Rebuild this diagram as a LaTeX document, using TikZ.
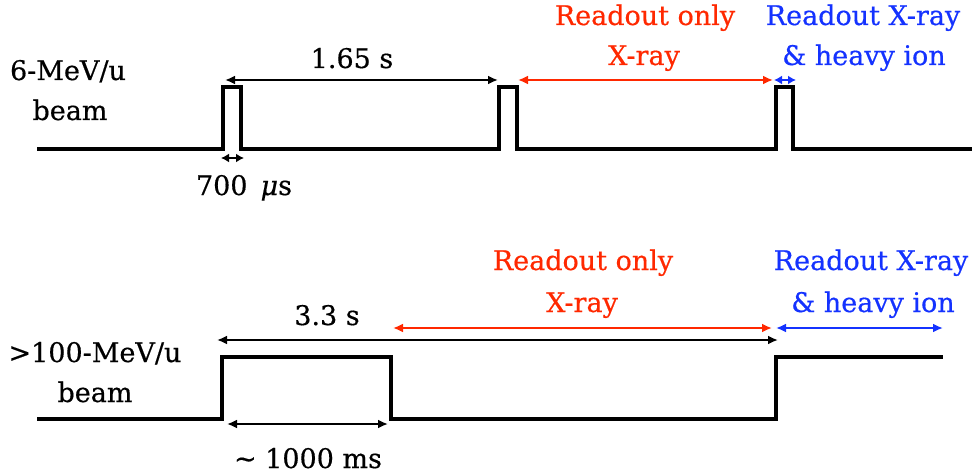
\documentclass[tikz,border=0pt]{standalone}
\usepackage{fontspec}
\setmainfont{DejaVu Serif}[FakeBold=0.5]
\usetikzlibrary{arrows.meta}
\definecolor{rored}{RGB}{255,40,0}
\definecolor{roblue}{RGB}{20,50,255}
\begin{document}
\begin{tikzpicture}[x=1pt,y=-1pt,
  wave/.style={line width=3.2pt, line join=miter},
  dimarr/.style={line width=2pt, {Latex[length=10pt,width=9pt]}-{Latex[length=10pt,width=9pt]}},
  smallarr/.style={line width=2pt, {Latex[length=8pt,width=9pt]}-{Latex[length=8pt,width=9pt]}},
  lbl/.style={font=\fontsize{27}{30}\selectfont, inner sep=0pt, anchor=base}]
\useasboundingbox (0,0) rectangle (972,476);

% ---- top waveform (6-MeV/u)
\coordinate (a0) at (37,149);
\coordinate (a1) at (223,149); \coordinate (a2) at (223,87);
\coordinate (a3) at (241,87);  \coordinate (a4) at (241,149);
\coordinate (a5) at (499,149); \coordinate (a6) at (499,87);
\coordinate (a7) at (517,87);  \coordinate (a8) at (517,149);
\coordinate (a9) at (776,149); \coordinate (a10) at (776,87);
\coordinate (a11) at (793,87); \coordinate (a12) at (793,149);
\coordinate (a13) at (972,149);
\draw[wave] (a0) -- (a1) -- (a2) -- (a3) -- (a4) -- (a5) -- (a6) -- (a7) -- (a8)
  -- (a9) -- (a10) -- (a11) -- (a12) -- (a13);

\coordinate (p1s) at (225,80); \coordinate (p1e) at (498,80);
\coordinate (r1s) at (518,80); \coordinate (r1e) at (773,80);
\coordinate (b1s) at (774,80); \coordinate (b1e) at (796,80);
\coordinate (w1s) at (221,158); \coordinate (w1e) at (244,158);
\draw[dimarr] (p1s) -- (p1e);
\draw[dimarr, rored] (r1s) -- (r1e);
\draw[smallarr, roblue] (b1s) -- (b1e);
\draw[smallarr] (w1s) -- (w1e);

\node[lbl] (t6mev) at (68,80) {6-MeV/u};
\node[lbl] (tbeam) at (70,120) {beam};
\node[lbl] (t165) at (352,68) {1.65 s};
\node[lbl, text=rored] (tro1) at (645,25) {Readout only};
\node[lbl, text=rored] (txr1) at (644,65) {X-ray};
\node[lbl, text=roblue] (trb1) at (863,25) {Readout X-ray};
\node[lbl, text=roblue] (thi1) at (864,65) {\& heavy ion};
\node[lbl] (t700) at (244,195) {700\, \textit{μ}s};

% ---- bottom waveform (>100-MeV/u)
\coordinate (c0) at (37,419);
\coordinate (c1) at (222,419); \coordinate (c2) at (222,357);
\coordinate (c3) at (391,357); \coordinate (c4) at (391,419);
\coordinate (c5) at (776,419); \coordinate (c6) at (776,357);
\coordinate (c7) at (943,357);
\draw[wave] (c0) -- (c1) -- (c2) -- (c3) -- (c4) -- (c5) -- (c6) -- (c7);

\coordinate (p2s) at (217,340); \coordinate (p2e) at (778,340);
\coordinate (r2s) at (393,328); \coordinate (r2e) at (772,328);
\coordinate (b2s) at (776,328); \coordinate (b2e) at (943,328);
\coordinate (m2s) at (227,424); \coordinate (m2e) at (388,424);
\draw[dimarr] (p2s) -- (p2e);
\draw[dimarr, rored] (r2s) -- (r2e);
\draw[dimarr, roblue] (b2s) -- (b2e);
\draw[dimarr] (m2s) -- (m2e);

\node[lbl] (t100mev) at (95,362) {\textgreater100-MeV/u};
\node[lbl] (tbeam2) at (95,402) {beam};
\node[lbl] (t33) at (327,325) {3.3 s};
\node[lbl, text=rored] (tro2) at (583,270) {Readout only};
\node[lbl, text=rored] (txr2) at (582,312) {X-ray};
\node[lbl, text=roblue] (trb2) at (871,270) {Readout X-ray};
\node[lbl, text=roblue] (thi2) at (873,312) {\& heavy ion};
\node[lbl] (t1000) at (308,468) {\textasciitilde\ 1000 ms};
\end{tikzpicture}
\end{document}
